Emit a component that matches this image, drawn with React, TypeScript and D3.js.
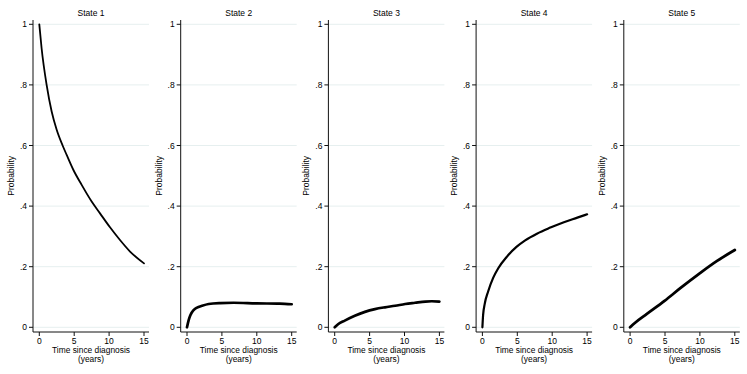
import React from "react";
import * as d3 from "d3";

const stateTitles = ["State 1", "State 2", "State 3", "State 4", "State 5"];
const xTicks = [0, 5, 10, 15];
const yTicks = [0, 0.2, 0.4, 0.6, 0.8, 1];
const yTickLabels = ["0", ".2", ".4", ".6", ".8", "1"];

const state1T = [0, 0.33, 1.05, 1.77, 2.49, 3.34, 3.92, 4.87, 6.07, 7.5, 8.7, 10.13, 11.56, 13, 15];
const state1P = [1, 0.921, 0.8, 0.712, 0.652, 0.6, 0.569, 0.52, 0.47, 0.415, 0.376, 0.33, 0.288, 0.25, 0.211];

const state2T = [0, 0.24, 0.48, 0.95, 1.43, 2.14, 3.1, 4.76, 6.67, 10, 13.3, 15];
const state2P = [0, 0.024, 0.04, 0.057, 0.065, 0.071, 0.077, 0.08, 0.081, 0.079, 0.078, 0.076];

const state3T = [0, 0.48, 1.44, 2.88, 4.33, 5.77, 7.2, 8.65, 10.1, 11.5, 13, 13.9, 15];
const state3P = [0, 0.01, 0.022, 0.038, 0.051, 0.06, 0.066, 0.071, 0.077, 0.081, 0.085, 0.086, 0.085];

const state4T = [0, 0.1, 0.34, 0.82, 1.54, 2.27, 3.47, 4.92, 6.13, 7.81, 9.74, 11.67, 13.6, 15];
const state4P = [0, 0.04, 0.078, 0.118, 0.163, 0.195, 0.232, 0.266, 0.287, 0.309, 0.329, 0.347, 0.362, 0.373];

const state5T = [0, 0.72, 2.4, 4.93, 7.19, 9.97, 12.46, 15];
const state5P = [0, 0.015, 0.044, 0.087, 0.129, 0.178, 0.219, 0.255];

const seriesT = [state1T, state2T, state3T, state4T, state5T];
const seriesP = [state1P, state2P, state3P, state4P, state5P];
const strokeWidths = [1.8, 2.7, 2.7, 2.2, 2.8];

const FONT = "'Liberation Sans', Arial, Helvetica, sans-serif";

function Panel({ i }: { i: number }) {
  const ax = 33 + i * 147.7;
  const right = ax + 116;
  const yTop = 20;
  const xAxisY = 332;
  const x = d3.scaleLinear().domain([0, 15]).range([ax + 6.3, ax + 111]);
  const y = d3.scaleLinear().domain([0, 1]).range([327.3, 24.3]);
  const pts = seriesT[i].map((t, k) => [t, seriesP[i][k]] as [number, number]);
  const line = d3
    .line<[number, number]>()
    .x((d) => x(d[0]))
    .y((d) => y(d[1]))
    .curve(d3.curveMonotoneX);
  return (
    <g>
      {yTicks.map((v) => (
        <line key={"g" + v} x1={ax} x2={right} y1={y(v)} y2={y(v)} stroke="#e6efef" strokeWidth={1} />
      ))}
      <line x1={ax} x2={ax} y1={yTop} y2={xAxisY} stroke="#111" strokeWidth={1} />
      <line x1={ax} x2={right} y1={xAxisY} y2={xAxisY} stroke="#111" strokeWidth={1} />
      {yTicks.map((v, k) => (
        <g key={"y" + v}>
          <line x1={ax - 4} x2={ax} y1={y(v)} y2={y(v)} stroke="#111" strokeWidth={1} />
          <text x={ax - 6} y={y(v) + 3} textAnchor="end" fontSize={8.5} fontFamily={FONT} fill="#000">
            {yTickLabels[k]}
          </text>
        </g>
      ))}
      {xTicks.map((v) => (
        <g key={"x" + v}>
          <line x1={x(v)} x2={x(v)} y1={xAxisY} y2={xAxisY + 4} stroke="#111" strokeWidth={1} />
          <text x={x(v)} y={344} textAnchor="middle" fontSize={8.5} fontFamily={FONT} fill="#000">
            {v}
          </text>
        </g>
      ))}
      <text x={(ax + right) / 2} y={352.8} textAnchor="middle" fontSize={8.4} fontFamily={FONT} fill="#000">
        Time since diagnosis
      </text>
      <text x={(ax + right) / 2} y={362.3} textAnchor="middle" fontSize={8.4} fontFamily={FONT} fill="#000">
        (years)
      </text>
      <text
        transform={`translate(${ax - 19},${(y(0) + y(1)) / 2}) rotate(-90)`}
        textAnchor="middle"
        fontSize={8.5}
        fontFamily={FONT}
        fill="#000"
      >
        Probability
      </text>
      <text x={(ax + right) / 2} y={15.5} textAnchor="middle" fontSize={8.5} fontFamily={FONT} fill="#000">
        {stateTitles[i]}
      </text>
      <path d={line(pts) || ""} fill="none" stroke="#000" strokeWidth={strokeWidths[i]} strokeLinejoin="round" strokeLinecap="round" />
    </g>
  );
}

export default function App() {
  return (
    <svg
      width={747}
      height={374}
      style={{ position: "absolute", left: 0, top: 0, background: "#fff" }}
    >
      <rect x={0} y={0} width={747} height={374} fill="#fff" />
      {stateTitles.map((_, i) => (
        <Panel key={i} i={i} />
      ))}
    </svg>
  );
}
